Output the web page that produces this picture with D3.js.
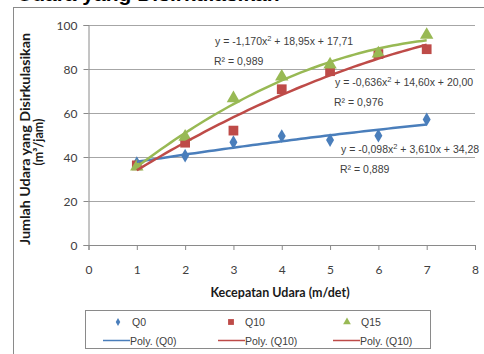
<!DOCTYPE html>
<html>
<head>
<meta charset="utf-8">
<script src="https://cdn.jsdelivr.net/npm/d3@7"></script>
<style>
  html, body { margin: 0; padding: 0; background: #fff; }
  svg { display: block; }
  .tick text { font-family: Lato, "Open Sans", sans-serif; font-size: 12px; fill: #404040; }
  .eq { font-family: "Liberation Sans", Arial, sans-serif; font-size: 10.5px; fill: #404040; }
  .leg { font-family: "Liberation Sans", Arial, sans-serif; font-size: 10.5px; fill: #404040; }
  .title { font-family: Lato, sans-serif; font-weight: bold; font-size: 12.5px; fill: #1a1a1a; }
</style>
</head>
<body>
<svg id="chart" width="484" height="354"></svg>
<script>
// data
const speeds = [1, 2, 3, 4, 5, 6, 7];
const q0 = [37.2, 40.6, 46.7, 49.5, 47.7, 49.7, 57.1];
const q10 = [36.2, 46.5, 52.0, 70.8, 79.0, 86.8, 89.0];
const q15 = [35.6, 49.2, 66.7, 76.5, 82.0, 87.0, 95.5];

// trendline coefficients shown on the chart (a*x^2 + b*x + c)
const fitQ0 = [-0.098, 3.610, 34.28];
const fitQ10 = [-0.636, 14.60, 20.00];
const fitQ15 = [-1.170, 18.95, 17.71];

const xTicks = [0, 1, 2, 3, 4, 5, 6, 7, 8];
const yTicks = [0, 20, 40, 60, 80, 100];

const blue = "#4a7ebb", red = "#be4b48", green = "#98b954";

const svg = d3.select("#chart");
svg.append("rect").attr("width", 484).attr("height", 354).attr("fill", "#fff");

// cropped chart title + outer frame
svg.append("text").attr("x", 17).attr("y", 1)
  .attr("font-family", "Liberation Sans, Arial, sans-serif")
  .attr("font-weight", "bold").attr("font-size", 21).attr("fill", "#000")
  .text("Udara yang Disirkulasikan");
svg.append("rect").attr("x", 13.5).attr("y", 7.5).attr("width", 480).attr("height", 360)
  .attr("fill", "#fff").attr("stroke", "#8a8a8a");

const x = d3.scaleLinear().domain([0, 8]).range([88.5, 475]);
const y = d3.scaleLinear().domain([0, 100]).range([245, 25]);

// gridlines
svg.append("g").selectAll("line").data(yTicks.filter(d => d > 0)).join("line")
  .attr("x1", x(0)).attr("x2", x(8))
  .attr("y1", d => Math.round(y(d)) + 0.5).attr("y2", d => Math.round(y(d)) + 0.5)
  .attr("stroke", "#a6a6a6");

const yAxis = svg.append("g").attr("transform", `translate(${x(0)},0)`)
  .call(d3.axisLeft(y).tickValues(yTicks).tickSize(5).tickPadding(6));
const xAxis = svg.append("g").attr("transform", `translate(0,${y(0)})`)
  .call(d3.axisBottom(x).tickValues(xTicks).tickSize(5).tickPadding(15));
[yAxis, xAxis].forEach(g => {
  g.select(".domain").attr("stroke", "#8a8a8a");
  g.selectAll(".tick line").attr("stroke", "#8a8a8a");
});
yAxis.selectAll(".tick text").attr("dy", "0.35em");

// markers
const series = [
  { name: "Q0", values: q0, fit: fitQ0, color: blue, shape: d3.symbolDiamond, size: 55 },
  { name: "Q10", values: q10, fit: fitQ10, color: red, shape: d3.symbolSquare, size: 95 },
  { name: "Q15", values: q15, fit: fitQ15, color: green, shape: d3.symbolTriangle, size: 78 }
];

series.forEach(s => {
  svg.append("g").selectAll("path").data(s.values).join("path")
    .attr("transform", (d, i) => `translate(${x(speeds[i])},${y(d)})`)
    .attr("d", d3.symbol(s.shape, s.size))
    .attr("fill", s.color);
});

// polynomial trendlines
const line = d3.line().x(d => x(d[0])).y(d => y(d[1]));
series.forEach(s => {
  const pts = d3.range(1, 7.001, 0.1).map(v => [v, s.fit[0] * v * v + s.fit[1] * v + s.fit[2]]);
  svg.append("path").attr("d", line(pts)).attr("fill", "none")
    .attr("stroke", s.color).attr("stroke-width", 2.5);
});

// equation labels
function eq(x0, y0, a, rest, r2) {
  const t = svg.append("text").attr("class", "eq").attr("x", x0).attr("y", y0);
  t.append("tspan").text(a);
  t.append("tspan").attr("font-size", 7.5).attr("dy", -4).text("2");
  t.append("tspan").attr("dy", 4).text(rest);
  svg.append("text").attr("class", "eq").attr("x", x0 - 1).attr("y", y0 + 20).text(r2);
}
eq(215, 45, "y = -1,170x", " + 18,95x + 17,71", "R² = 0,989");
eq(335, 86, "y = -0,636x", " + 14,60x + 20,00", "R² = 0,976");
eq(341, 153, "y = -0,098x", " + 3,610x + 34,28", "R² = 0,889");

// axis titles
svg.append("text").attr("class", "title").attr("text-anchor", "middle")
  .attr("font-size", 13).attr("textLength", 212).attr("lengthAdjust", "spacingAndGlyphs")
  .attr("transform", "translate(30,139) rotate(-90)").text("Jumlah Udara yang Disirkulasikan");
svg.append("text").attr("class", "title").attr("text-anchor", "middle")
  .attr("font-size", 13)
  .attr("transform", "translate(43,142) rotate(-90)").text("(m³/jam)");
svg.append("text").attr("class", "title").attr("text-anchor", "middle")
  .attr("x", 280).attr("y", 297).text("Kecepatan Udara (m/det)");

// legend
const legend = svg.append("g");
legend.append("rect").attr("x", 85.5).attr("y", 310.5).attr("width", 345).attr("height", 38)
  .attr("fill", "#fff").attr("stroke", "#8a8a8a");
const markerX = [118, 231, 347];
const legendShapes = [[d3.symbolDiamond, 18], [d3.symbolSquare, 34], [d3.symbolTriangle, 26]];
series.forEach((s, i) => {
  legend.append("path").attr("transform", `translate(${markerX[i]},322)`)
    .attr("d", d3.symbol(legendShapes[i][0], legendShapes[i][1])).attr("fill", s.color);
  legend.append("text").attr("class", "leg").attr("x", markerX[i] + 14).attr("y", 326).text(s.name);
});
const polyLabels = ["Poly. (Q0)", "Poly. (Q10)", "Poly. (Q10)"];
const polyColors = [blue, red, red];
const lineX = [103, 218, 333];
polyLabels.forEach((lab, i) => {
  legend.append("line").attr("x1", lineX[i]).attr("x2", lineX[i] + 27)
    .attr("y1", 340.5).attr("y2", 340.5).attr("stroke", polyColors[i]).attr("stroke-width", 1.5);
  legend.append("text").attr("class", "leg").attr("x", lineX[i] + 27).attr("y", 344.5).text(lab);
});
</script>
</body>
</html>
